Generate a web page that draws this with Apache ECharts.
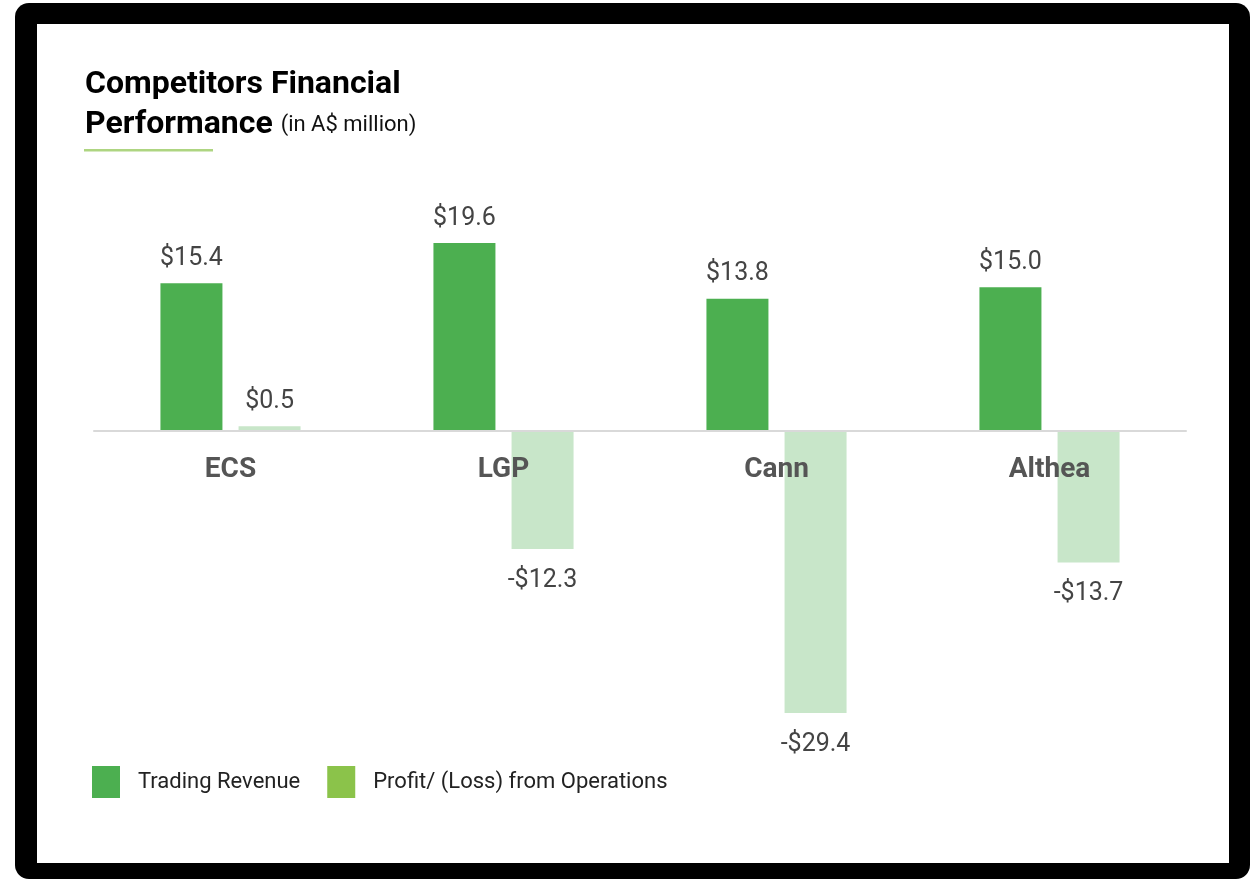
<!DOCTYPE html>
<html>
<head>
<meta charset="utf-8">
<script src="https://cdn.jsdelivr.net/npm/echarts@6/dist/echarts.min.js"></script>
<style>
html,body{margin:0;padding:0;background:#fff;}
#chart{width:1260px;height:880px;}
</style>
</head>
<body>
<div id="chart"></div>
<script>
const categories = ['ECS', 'LGP', 'Cann', 'Althea'];
const tradingRevenue = [15.4, 19.6, 13.8, 15.0];
const profitLoss = [0.5, -12.3, -29.4, -13.7];
const seriesNames = ['Trading Revenue', 'Profit/ (Loss) from Operations'];

function fmt(v) {
  return (v < 0 ? '-$' : '$') + Math.abs(v).toFixed(1);
}
function withLabels(arr) {
  return arr.map(v => ({
    value: v,
    label: {
      position: v < 0 ? 'bottom' : 'top',
      distance: v < 0 ? 19 : 12
    }
  }));
}

const chart = echarts.init(document.getElementById('chart'), null, {renderer: 'canvas'});
const font = 'Roboto, "Noto Sans", sans-serif';
const yMin = -32, yMax = 22;
const gridTop = 220, gridHeight = 518;
const zeroY = gridTop + gridHeight * yMax / (yMax - yMin);

chart.setOption({
  backgroundColor: '#ffffff',
  animation: false,
  graphic: [
    {type: 'rect', z: -10, shape: {x: 15, y: 3, width: 1235, height: 876, r: 14}, style: {fill: '#000'}},
    {type: 'rect', z: -9, shape: {x: 37, y: 24, width: 1192, height: 839}, style: {fill: '#fff'}},
    {type: 'rect', z: 5, shape: {x: 84, y: 149, width: 129, height: 2.5}, style: {fill: '#AED581'}}
  ],
  title: {
    text: 'Competitors Financial\nPerformance {s|(in A$ million)}',
    left: 85,
    top: 65,
    padding: 0,
    textStyle: {
      fontFamily: font,
      fontSize: 32,
      fontWeight: 'bold',
      color: '#000',
      lineHeight: 40,
      rich: {
        s: {fontFamily: font, fontSize: 22, fontWeight: 'normal', color: '#111', lineHeight: 40}
      }
    }
  },
  legend: {
    left: 92,
    top: 766,
    padding: 0,
    itemWidth: 28,
    itemHeight: 32,
    itemGap: 27,
    icon: 'rect',
    textStyle: {fontFamily: font, fontSize: 22, color: '#222', padding: [5, 0, 0, 13]},
    data: [
      {name: seriesNames[0], itemStyle: {color: '#4CAF50'}},
      {name: seriesNames[1], itemStyle: {color: '#8BC34A'}}
    ]
  },
  grid: [
    {left: 94, right: 74, top: gridTop, height: gridHeight, containLabel: false},
    {left: 94, right: 74, top: gridTop, height: zeroY - gridTop, containLabel: false}
  ],
  xAxis: [
    {
      type: 'category',
      gridIndex: 0,
      data: categories,
      z: 5,
      axisLine: {onZero: true, lineStyle: {color: '#d9d9d9', width: 2}},
      axisTick: {show: false},
      axisLabel: {show: false}
    },
    {
      type: 'category',
      gridIndex: 1,
      data: categories,
      z: 6,
      position: 'bottom',
      axisLine: {show: false},
      axisTick: {show: false},
      axisLabel: {fontFamily: font, fontSize: 28, fontWeight: 'bold', color: '#555', margin: 25}
    }
  ],
  yAxis: [
    {type: 'value', gridIndex: 0, min: yMin, max: yMax, show: false, splitLine: {show: false}},
    {type: 'value', gridIndex: 1, min: 0, max: yMax, show: false, splitLine: {show: false}}
  ],
  series: [
    {
      name: seriesNames[0],
      type: 'bar',
      barWidth: 62,
      barGap: '26%',
      itemStyle: {color: '#4CAF50'},
      label: {show: true, fontFamily: font, fontSize: 25, color: '#444', formatter: p => fmt(p.value)},
      data: withLabels(tradingRevenue)
    },
    {
      name: seriesNames[1],
      type: 'bar',
      barWidth: 62,
      barGap: '26%',
      itemStyle: {color: '#C8E6C9'},
      label: {show: true, fontFamily: font, fontSize: 25, color: '#444', formatter: p => fmt(p.value)},
      data: withLabels(profitLoss)
    }
  ]
});
</script>
</body>
</html>
